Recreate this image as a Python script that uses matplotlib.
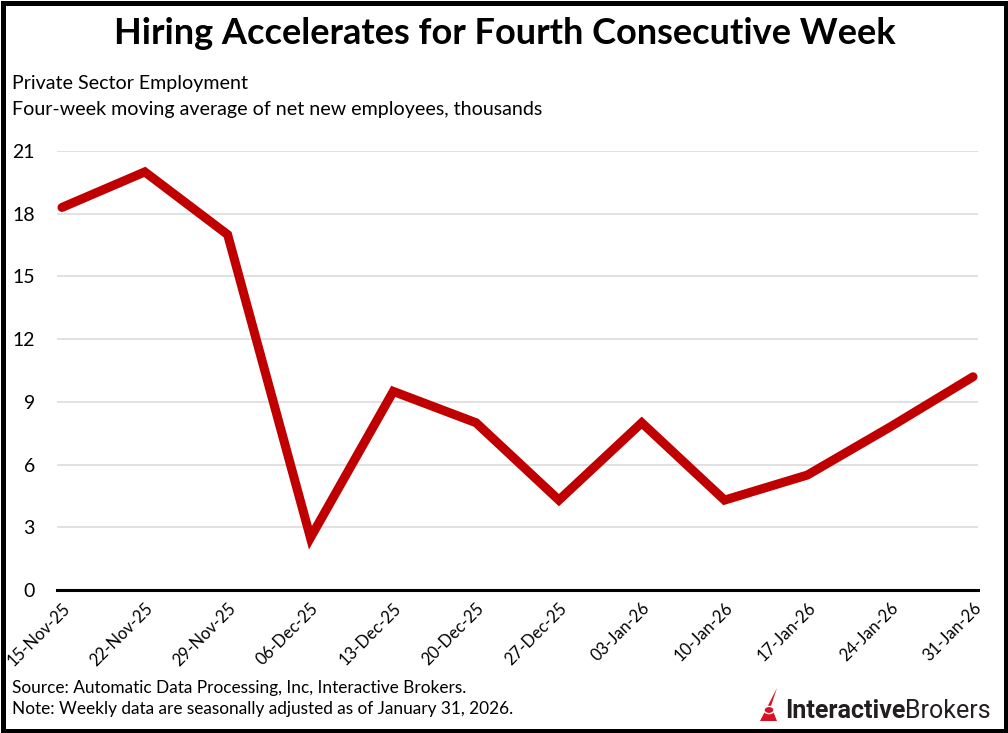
import matplotlib.pyplot as plt
from matplotlib.patches import Rectangle, Polygon, Circle

weeks = ["15-Nov-25", "22-Nov-25", "29-Nov-25", "06-Dec-25", "13-Dec-25", "20-Dec-25",
         "27-Dec-25", "03-Jan-26", "10-Jan-26", "17-Jan-26", "24-Jan-26", "31-Jan-26"]
employment = [18.3, 20.0, 17.0, 2.5, 9.5, 8.0, 4.3, 8.0, 4.3, 5.5, 7.8, 10.2]
yticks = [0, 3, 6, 9, 12, 15, 18, 21]

W, H = 1008, 733
font = "Lato"

fig = plt.figure(figsize=(W / 100, H / 100), dpi=100)
fig.patch.set_facecolor("white")

# plot area in pixels: x 57..978, y 151..590
ax = fig.add_axes([57 / W, (H - 590) / H, (978 - 57) / W, (590 - 151) / H])
x = list(range(len(weeks)))
ax.plot(x, employment, color="#C00000", lw=6.5, solid_capstyle="round",
        solid_joinstyle="miter", zorder=3)

ax.set_xlim(-0.06, len(weeks) - 1 + 0.06)
ax.set_ylim(0, 21)
ax.set_yticks(yticks)
ax.set_yticklabels([str(v) for v in yticks], fontsize=14, family=font)
ax.set_xticks(x)
ax.set_xticklabels(weeks, rotation=45, ha="right", va="top", rotation_mode="anchor",
                   fontsize=12, family=font)
ax.tick_params(axis="both", length=0)
ax.tick_params(axis="y", pad=16)
ax.tick_params(axis="x", pad=7)
ax.grid(axis="y", color="#D9D9D9", lw=1.1)
ax.set_axisbelow(True)
for s in ["top", "right", "left"]:
    ax.spines[s].set_visible(False)
ax.spines["bottom"].set_linewidth(2.2)
ax.spines["bottom"].set_zorder(4)

fig.text(505 / W, 1 - 33 / H, "Hiring Accelerates for Fourth Consecutive Week",
         ha="center", va="center", fontsize=26, fontweight="bold", family=font)
fig.text(12 / W, 1 - 84 / H, "Private Sector Employment",
         ha="left", va="center", fontsize=14.1, family=font)
fig.text(12 / W, 1 - 109 / H, "Four-week moving average of net new employees, thousands",
         ha="left", va="center", fontsize=14.1, family=font)
fig.text(12 / W, 1 - 688 / H, "Source: Automatic Data Processing, Inc, Interactive Brokers.",
         ha="left", va="center", fontsize=12.4, family=font)
fig.text(12 / W, 1 - 709 / H, "Note: Weekly data are seasonally adjusted as of January 31, 2026.",
         ha="left", va="center", fontsize=12.4, family=font)

# logo
t1 = fig.text(785 / W, 1 - 711 / H, "Interactive", ha="left", va="center", fontsize=18,
              fontweight="bold", family="Roboto", color="#231F20")
fig.canvas.draw()
bb = t1.get_window_extent()
fig.text(bb.x1 / W, 1 - 711 / H, "Brokers", ha="left", va="center", fontsize=18,
         family="Roboto", color="#231F20")
icon = Polygon([[760 / W, 1 - 721 / H], [777 / W, 1 - 688 / H], [771 / W, 1 - 706 / H],
                [777 / W, 1 - 721 / H]], closed=True, transform=fig.transFigure,
               facecolor="#D81222", edgecolor="none")
fig.patches.append(icon)
fig.patches.append(Circle((769 / W, 1 - 710 / H), 5 / W, transform=fig.transFigure,
                          facecolor="#D81222", edgecolor="white", lw=1))

# frame
fig.patches.append(Rectangle((2.5 / W, 2.5 / H), 1 - 5 / W, 1 - 5 / H,
                             transform=fig.transFigure, fill=False,
                             edgecolor="black", lw=3.6))

fig.savefig("out.png", dpi=100)
